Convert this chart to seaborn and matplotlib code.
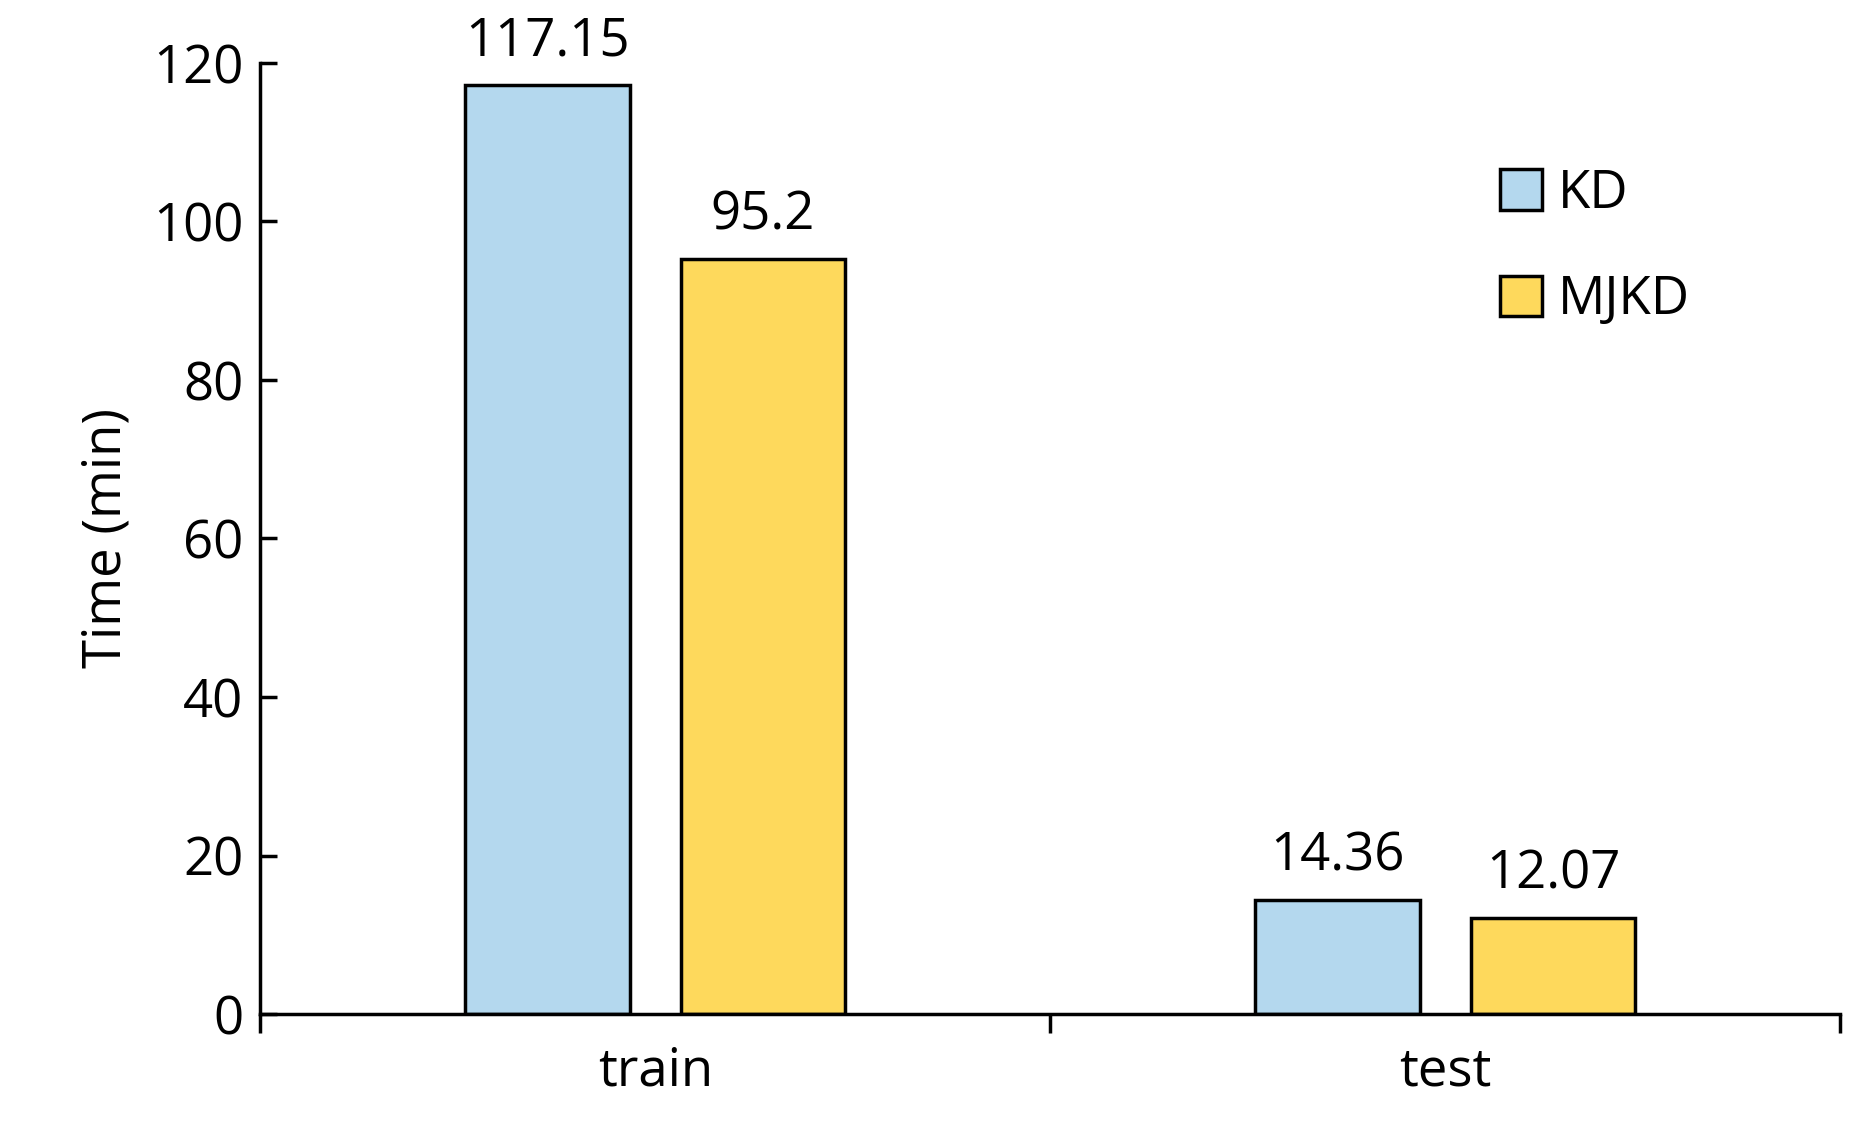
import matplotlib
matplotlib.use("Agg")
import matplotlib.pyplot as plt
import seaborn as sns
import pandas as pd

phases = ["train", "test"]
methods = ["KD", "MJKD"]
kd_times = [117.15, 14.36]
mjkd_times = [95.2, 12.07]

df = pd.DataFrame({
    "phase": phases * 2,
    "method": ["KD"] * 2 + ["MJKD"] * 2,
    "time": kd_times + mjkd_times,
})

sns.set_style("white")
plt.rcParams["font.family"] = ["Open Sans", "DejaVu Sans"]
plt.rcParams["text.color"] = "black"
plt.rcParams["xtick.color"] = "black"
plt.rcParams["ytick.color"] = "black"
plt.rcParams["axes.labelcolor"] = "black"

fig = plt.figure(figsize=(18.59, 11.42), dpi=100)
ax = fig.add_axes([0.140, 0.112, 0.850, 0.833])
sns.barplot(data=df, x="phase", y="time", hue="method", order=phases, hue_order=methods,
            palette=["#B4D8EE", "#FED95C"], saturation=1, width=0.545, gap=0.235,
            edgecolor="black", linewidth=2.5, ax=ax)

for c in ax.containers:
    ax.bar_label(c, labels=[f"{v:g}" for v in c.datavalues], padding=12, fontsize=38)

ax.set_xlim(-0.5, 1.5)
ax.set_ylim(0, 120)
ax.set_yticks(range(0, 121, 20))
ax.set_xticks([-0.5, 0.5, 1.5], minor=True)
ax.tick_params(axis="x", which="major", bottom=True, length=0, pad=22, labelsize=38)
ax.tick_params(axis="x", which="minor", bottom=True, length=14, width=2.5, direction="out")
ax.tick_params(axis="y", left=True, length=12, width=2.5, direction="in", labelsize=38, pad=12)
ax.set_xlabel("")
ax.set_ylabel("Time (min)", fontsize=38, labelpad=14)
for s in ["top", "right"]:
    ax.spines[s].set_visible(False)
for s in ["left", "bottom"]:
    ax.spines[s].set_linewidth(2.5)
    ax.spines[s].set_color("black")

leg = ax.legend(loc="upper right", bbox_to_anchor=(0.935, 0.94), frameon=False, fontsize=38,
                handlelength=0.8, handleheight=0.8, labelspacing=1.0, handletextpad=0.3)
for h in leg.legend_handles:
    h.set_edgecolor("black")
    h.set_linewidth(2.5)

fig.savefig("out.png", dpi=100)
